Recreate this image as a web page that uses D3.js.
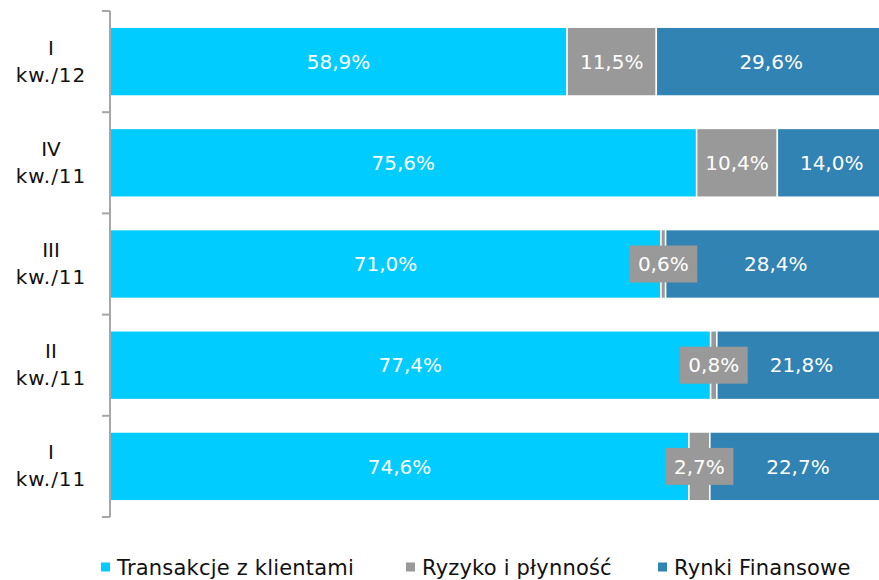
<!DOCTYPE html>
<html>
<head>
<meta charset="utf-8">
<script src="https://cdn.jsdelivr.net/npm/d3@7"></script>
<style>
  html, body { margin: 0; padding: 0; background: #fff; }
  svg { display: block; font-family: "DejaVu Sans", Verdana, sans-serif; }
</style>
</head>
<body>
<svg id="chart" width="879" height="580"></svg>
<script>
// Quarter categories, top to bottom
const quarters = [["I", "kw./12"], ["IV", "kw./11"], ["III", "kw./11"], ["II", "kw./11"], ["I", "kw./11"]];
const seriesNames = ["Transakcje z klientami", "Ryzyko i płynność", "Rynki Finansowe"];
const klienci = [58.9, 75.6, 71.0, 77.4, 74.6];
const ryzyko = [11.5, 10.4, 0.6, 0.8, 2.7];
const rynki = [29.6, 14.0, 28.4, 21.8, 22.7];
const colors = ["#00CCFF", "#999999", "#3183B4"];

const svg = d3.select("#chart");
const plotLeft = 110, plotTop = 11, plotBottom = 517;

const keys = quarters.map(q => q.join(" "));
const rows = keys.map((k, i) => ({ key: k, s0: klienci[i], s1: ryzyko[i], s2: rynki[i] }));
const stack = d3.stack().keys(["s0", "s1", "s2"])(rows);

const x = d3.scaleLinear().domain([0, 100]).range([plotLeft, 886]);
const y = d3.scaleBand().domain(keys).range([plotTop, plotBottom]).paddingInner(0.32).paddingOuter(0.16);
const yb = d3.scaleBand().domain(keys).range([plotTop, plotBottom]);

// Segments
stack.forEach((layer, si) => {
  svg.append("g").selectAll("rect").data(layer).join("rect")
    .attr("x", d => x(d[0]))
    .attr("y", d => y(d.data.key))
    .attr("width", d => x(d[1]) - x(d[0]))
    .attr("height", y.bandwidth())
    .attr("fill", colors[si])
    .attr("stroke", "#fff")
    .attr("stroke-width", 1.5);
});

// Value labels (the middle series gets a grey backing box)
const fmt = v => v.toFixed(1).replace(".", ",") + "%";
stack.forEach((layer, si) => {
  const g = svg.append("g").selectAll("g").data(layer).join("g")
    .attr("transform", d => `translate(${(x(d[0]) + x(d[1])) / 2},${y(d.data.key) + y.bandwidth() / 2})`);
  if (si === 1) {
    g.append("rect").attr("x", -34).attr("y", -18.5).attr("width", 68).attr("height", 37)
      .attr("fill", colors[1]);
  }
  g.append("text")
    .attr("text-anchor", "middle").attr("dy", "0.36em")
    .attr("fill", "#fff").attr("font-size", 20)
    .text(d => fmt(d[1] - d[0]));
});

// Category axis with boundary ticks
const ax = svg.append("g").attr("stroke", "#a6a6a6").attr("stroke-width", 2).attr("fill", "none");
ax.append("line").attr("x1", plotLeft).attr("x2", plotLeft).attr("y1", plotTop).attr("y2", plotBottom);
const bounds = keys.map(k => yb(k)).concat([plotBottom]);
ax.selectAll(".tk").data(bounds).join("line")
  .attr("x1", plotLeft - 8).attr("x2", plotLeft).attr("y1", d => d).attr("y2", d => d);

// Category labels
const cl = svg.append("g").selectAll("text").data(quarters).join("text")
  .attr("text-anchor", "middle").attr("font-size", 20).attr("fill", "#111")
  .attr("transform", (q, i) => `translate(51,${y(keys[i]) + y.bandwidth() / 2})`);
cl.append("tspan").attr("x", 0).attr("y", -7).text(q => q[0]);
cl.append("tspan").attr("x", 0).attr("y", 20).attr("letter-spacing", 1).text(q => q[1]);

// Legend
const legX = [101, 406, 658];
const lg = svg.append("g").selectAll("g").data(seriesNames).join("g")
  .attr("transform", (d, i) => `translate(${legX[i]},567)`);
lg.append("rect").attr("x", 0).attr("y", -4.5).attr("width", 9).attr("height", 9)
  .attr("fill", (d, i) => colors[i]);
lg.append("text").attr("x", 16).attr("dy", "0.38em").attr("font-size", 21).attr("fill", "#111")
  .attr("letter-spacing", 0.2)
  .text(d => d);
</script>
</body>
</html>
